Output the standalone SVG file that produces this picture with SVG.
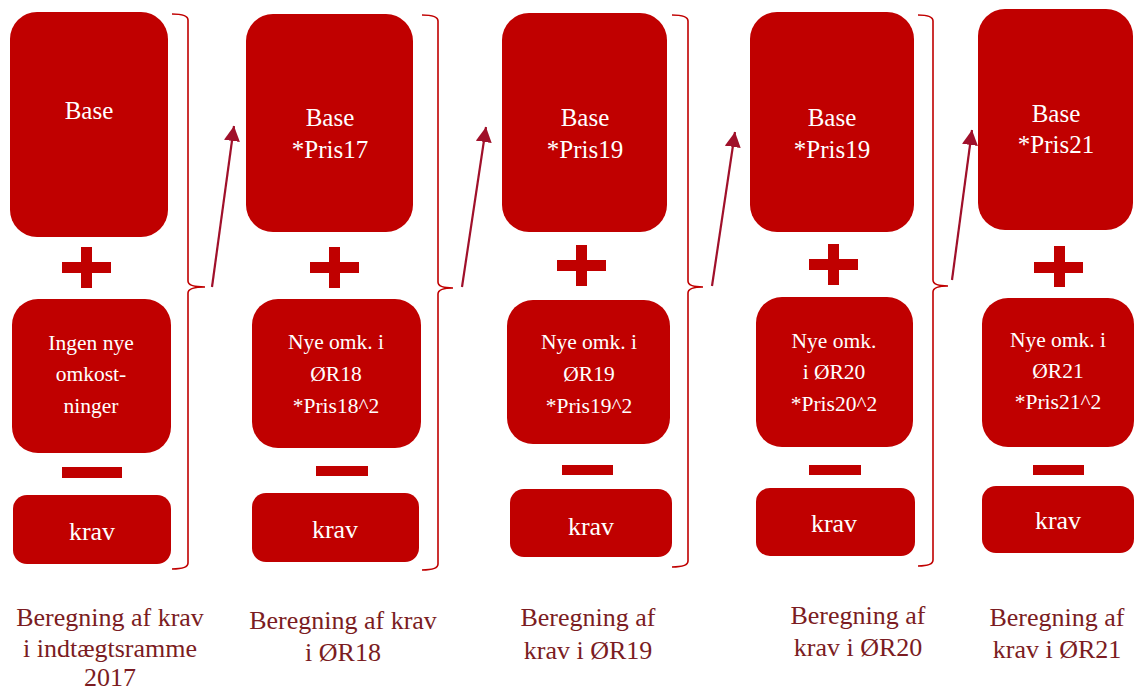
<svg xmlns="http://www.w3.org/2000/svg" width="1134" height="691" viewBox="0 0 1134 691">
<defs>
<style>
.box{fill:#C00000}
.sign{fill:#C00000}
.t{font-family:"Liberation Serif","Times New Roman",serif;fill:#FFFFFF;text-anchor:middle}
.tb{font-size:25px}
.tm{font-size:21.5px}
.tk{font-size:26px}
.lab{font-family:"Liberation Serif","Times New Roman",serif;font-size:26px;fill:#7B1C22;text-anchor:middle}
.brace{fill:none;stroke:#C00000;stroke-width:1.6}
.arr{fill:none;stroke:#A0102A;stroke-width:2.2}
</style>
<marker id="ah" markerUnits="userSpaceOnUse" markerWidth="18" markerHeight="18" refX="15" refY="8" orient="auto">
<path d="M0,0 L15,8 L0,16 z" fill="#A0102A"/>
</marker>
</defs>
<rect width="1134" height="691" fill="#FFFFFF"/>

<g id="col1">
<rect class="box" x="10" y="12" width="158" height="225" rx="27"/>
<text class="t tb" x="89" y="119">Base</text>
<path class="sign" d="M62,262h49v11h-49z M81,247h11v41h-11z"/>
<rect class="box" x="12" y="299" width="159" height="154" rx="26"/>
<text class="t tm" x="91" y="350">Ingen nye</text>
<text class="t tm" x="91" y="381">omkost-</text>
<text class="t tm" x="91" y="413">ninger</text>
<rect class="sign" x="62" y="467" width="60" height="11"/>
<rect class="box" x="13" y="495" width="158" height="69" rx="14"/>
<text class="t tk" x="92" y="540">krav</text>
<text class="lab" x="110" y="626">Beregning af krav</text>
<text class="lab" x="110" y="657">i indtægtsramme</text>
<text class="lab" x="110" y="686">2017</text>
</g>

<g id="col2">
<rect class="box" x="246" y="14" width="167" height="218" rx="27"/>
<text class="t tb" x="330" y="126">Base</text>
<text class="t tb" x="330" y="158">*Pris17</text>
<path class="sign" d="M310,262h49v11h-49z M329,247h11v41h-11z"/>
<rect class="box" x="252" y="299" width="169" height="149" rx="26"/>
<text class="t tm" x="336" y="349">Nye omk. i</text>
<text class="t tm" x="336" y="381">ØR18</text>
<text class="t tm" x="336" y="413">*Pris18^2</text>
<rect class="sign" x="316" y="466" width="52" height="10"/>
<rect class="box" x="252" y="493" width="167" height="69" rx="14"/>
<text class="t tk" x="335" y="538">krav</text>
<text class="lab" x="343" y="629">Beregning af krav</text>
<text class="lab" x="343" y="661">i ØR18</text>
</g>

<g id="col3">
<rect class="box" x="502" y="13" width="165" height="219" rx="27"/>
<text class="t tb" x="585" y="126">Base</text>
<text class="t tb" x="585" y="158">*Pris19</text>
<path class="sign" d="M557,260h49v11h-49z M576,245h11v41h-11z"/>
<rect class="box" x="507" y="300" width="163" height="144" rx="26"/>
<text class="t tm" x="589" y="349">Nye omk. i</text>
<text class="t tm" x="589" y="381">ØR19</text>
<text class="t tm" x="589" y="413">*Pris19^2</text>
<rect class="sign" x="562" y="465" width="51" height="10"/>
<rect class="box" x="510" y="489" width="162" height="68" rx="14"/>
<text class="t tk" x="591" y="535">krav</text>
<text class="lab" x="588" y="626">Beregning af</text>
<text class="lab" x="588" y="659">krav i ØR19</text>
</g>

<g id="col4">
<rect class="box" x="750" y="12" width="164" height="220" rx="27"/>
<text class="t tb" x="832" y="126">Base</text>
<text class="t tb" x="832" y="158">*Pris19</text>
<path class="sign" d="M809,259h49v11h-49z M828,244h11v41h-11z"/>
<rect class="box" x="756" y="297" width="157" height="150" rx="26"/>
<text class="t tm" x="834" y="348">Nye omk.</text>
<text class="t tm" x="834" y="379">i ØR20</text>
<text class="t tm" x="834" y="411">*Pris20^2</text>
<rect class="sign" x="809" y="465" width="52" height="10"/>
<rect class="box" x="756" y="488" width="159" height="68" rx="14"/>
<text class="t tk" x="834" y="532">krav</text>
<text class="lab" x="858" y="624">Beregning af</text>
<text class="lab" x="858" y="656">krav i ØR20</text>
</g>

<g id="col5">
<rect class="box" x="978" y="9" width="155" height="221" rx="27"/>
<text class="t tb" x="1056" y="122">Base</text>
<text class="t tb" x="1056" y="153">*Pris21</text>
<path class="sign" d="M1034,262h49v11h-49z M1054,246h11v41h-11z"/>
<rect class="box" x="982" y="298" width="152" height="149" rx="26"/>
<text class="t tm" x="1058" y="347">Nye omk. i</text>
<text class="t tm" x="1058" y="378">ØR21</text>
<text class="t tm" x="1058" y="409">*Pris21^2</text>
<rect class="sign" x="1033" y="465" width="51" height="10"/>
<rect class="box" x="982" y="486" width="152" height="67" rx="14"/>
<text class="t tk" x="1058" y="529">krav</text>
<text class="lab" x="1057" y="626">Beregning af</text>
<text class="lab" x="1057" y="658">krav i ØR21</text>
</g>

<g id="connectors">
<path class="brace" d="M172,14 Q188,14 188,20 V281 Q188,287 205,287 Q188,287 188,293 V563 Q188,569 172,569"/>
<path class="brace" d="M422,15 Q438,15 438,21 V282 Q438,288 453,288 Q438,288 438,294 V564 Q438,570 422,570"/>
<path class="brace" d="M672,15 Q688,15 688,21 V281 Q688,287 703,287 Q688,287 688,293 V561 Q688,567 672,567"/>
<path class="brace" d="M918,15 Q933,15 933,21 V280 Q933,286 948,286 Q933,286 933,292 V560 Q933,566 918,566"/>
<line class="arr" x1="212" y1="287" x2="234" y2="126" marker-end="url(#ah)"/>
<line class="arr" x1="462" y1="287" x2="486" y2="127" marker-end="url(#ah)"/>
<line class="arr" x1="712" y1="286" x2="735" y2="132" marker-end="url(#ah)"/>
<line class="arr" x1="952" y1="280" x2="972" y2="130" marker-end="url(#ah)"/>
</g>
</svg>
